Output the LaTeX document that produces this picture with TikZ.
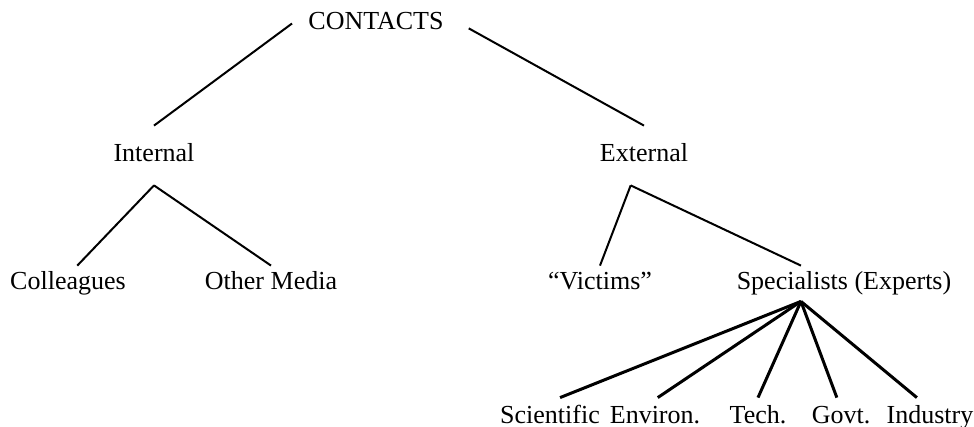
\documentclass[tikz,border=0pt]{standalone}
\usepackage{fontspec}
\setmainfont{Liberation Serif}
\usetikzlibrary{calc}

\begin{document}
\begin{tikzpicture}[x=0.5pt, y=-0.5pt, font=\fontsize{13}{15}\selectfont,
          lvl/.style={inner xsep=0pt, inner ysep=3pt, text height=9pt, text depth=2.5pt, anchor=base},
          root/.style={lvl, inner xsep=8pt},
          mid/.style={lvl, inner ysep=9pt},
          leaf/.style={lvl, inner ysep=3.5pt},
          link/.style={draw=black, line width=1pt},
          heavy/.style={link, line width=1.5pt}]
          \useasboundingbox (0,0) rectangle (974,427);
          \node[root] (contacts) at (376,30) {CONTACTS};
          \node[mid] (internal) at (154,162) {Internal};
          \node[mid] (external) at (644,162) {External};
          \node[lvl] (colleagues) at (68,290) {Colleagues};
          \node[lvl] (othermedia) at (271,290) {Other Media};
          \node[lvl] (victims) at (600,290) {“Victims”};
          \node[lvl] (specialists) at (844,290) {Specialists (Experts)};
          \node[leaf] (scientific) at (550,423) {Scientific};
          \node[leaf] (environ) at (655,423) {Environ.};
          \node[leaf] (tech) at (758,423) {Tech.};
          \node[leaf] (govt) at (841,423) {Govt.};
          \node[leaf] (industry) at (930,423) {Industry};
          \draw[link] (contacts.west) -- (internal.north); \draw[link, shorten <=5pt] (contacts.east) -- (external.north);
          \draw[link] (internal.south) -- ($(colleagues.north west)!.58!(colleagues.north east)$); \draw[link] (internal.south) -- (othermedia.north);
          \draw[link] ($(external.south west)!.35!(external.south east)$) -- (victims.north);
          \draw[link] ($(external.south west)!.35!(external.south east)$) -- ($(specialists.north west)!.3!(specialists.north east)$);
          \foreach \leaf/\pos in {scientific/.6, environ/.53, tech/.5, govt/.43, industry/.35}
            \draw[heavy] ($(specialists.south west)!.3!(specialists.south east)$) -- ($(\leaf.north west)!\pos!(\leaf.north east)$);
        \end{tikzpicture}
\end{document}
